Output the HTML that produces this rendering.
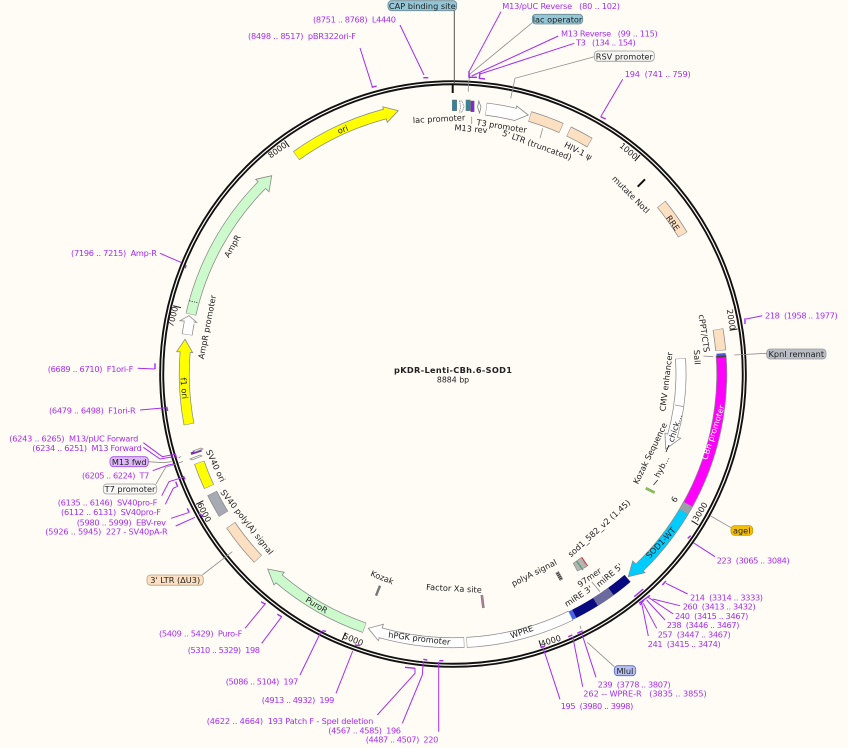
<!DOCTYPE html>
<html><head><meta charset="utf-8"><style>
html,body{margin:0;padding:0;background:#fffcf6;width:848px;height:748px;overflow:hidden}
svg{display:block;filter:blur(.3px)}
text{font-family:"DejaVu Sans","Liberation Sans",sans-serif;font-size:8.2px;white-space:pre;dominant-baseline:central}
.m{text-anchor:middle;fill:#222}
.p{fill:#a62cf2}
.o{stroke:#8a8a8a;stroke-width:10.8;fill:none}
.f{stroke-width:9.3;fill:none}
.h{stroke:#8a8a8a;stroke-width:.8}
.l{fill:none;stroke:#a62cf2;stroke-width:1}
.k{fill:none;stroke:#a62cf2;stroke-width:1.4}
.g{fill:none;stroke:#8c8c8c;stroke-width:.8}
.n{fill:none;stroke:#222;stroke-width:1}
</style></head><body>
<svg width="848" height="748" viewBox="0 0 848 748" xmlns="http://www.w3.org/2000/svg">
<defs>
<circle id="c" cx="453" cy="374" r="268.75" pathLength="360"/>
<circle id="d" cx="453" cy="374" r="228" pathLength="360"/>
<circle id="e" cx="453" cy="374" r="267" pathLength="360"/>
</defs>
<rect width="848" height="748" fill="#fffcf6"/>

<!-- ring -->
<circle cx="453" cy="374" r="291.3" fill="none" stroke="#111" stroke-width="5"/>
<circle cx="453" cy="374" r="291.3" fill="none" stroke="#fffcf6" stroke-width="1.2"/>

<!-- ticks -->
<g stroke="#111" stroke-width="1">
<line x1="453" y1="86" x2="453" y2="94" transform="rotate(40.5 453 374)"/>
<line x1="453" y1="86" x2="453" y2="94" transform="rotate(81 453 374)"/>
<line x1="453" y1="86" x2="453" y2="94" transform="rotate(121.6 453 374)"/>
<line x1="453" y1="86" x2="453" y2="94" transform="rotate(162.1 453 374)"/>
<line x1="453" y1="86" x2="453" y2="94" transform="rotate(202.6 453 374)"/>
<line x1="453" y1="86" x2="453" y2="94" transform="rotate(243.1 453 374)"/>
<line x1="453" y1="86" x2="453" y2="94" transform="rotate(283.7 453 374)"/>
<line x1="453" y1="86" x2="453" y2="94" transform="rotate(324.2 453 374)"/>
</g>
<g class="m">
<text class="m" transform="translate(628.7 151) rotate(40.5)" text-anchor="middle">1000</text>
<text class="m" transform="translate(731.3 319.5) rotate(81)">2000</text>
<text class="m" transform="translate(700 511.7) rotate(-58.4)">3000</text>
<text class="m" transform="translate(550.7 640.7) rotate(-18)">4000</text>
<text class="m" transform="translate(353.3 639.3) rotate(22.6)">5000</text>
<text class="m" transform="translate(204.3 512.3) rotate(63)">6000</text>
<text class="m" transform="translate(172.7 316.7) rotate(-76)">7000</text>
<text class="m" transform="translate(277.3 150) rotate(-36)">8000</text>
</g>

<!-- arrow heads -->
<polygon class="h" fill="#ffff00" points="382.7,106.7 398.3,110.7 387.3,122.3"/>
<polygon class="h" fill="#ccfacc" points="255.7,179.3 271.7,175.7 269,191.7"/>
<polygon class="h" fill="#fff" points="180,320.7 189,315.7 196.7,322.3"/>
<polygon class="h" fill="#ffff00" points="176.7,351.7 185,339.3 192.7,352.7"/>
<polygon class="h" fill="#ccfacc" points="284.3,572.3 267.7,569 274,585"/>
<polygon class="h" fill="#fff" points="383.3,624.3 368.3,628.3 378.3,640.7"/>
<polygon class="h" fill="#00ccff" points="632.7,561 628.3,576.7 645,572.7"/>
<polygon class="h" fill="#fff" points="516.7,106 528.3,115 514,120.7"/>
<polygon class="h" fill="#fff" points="665,433.3 665.7,449 680.7,438.3"/>

<!-- feature bodies: outlines -->
<use href="#c" class="o" stroke-dasharray="21.05 400" transform="rotate(234.3 453 374)"/>
<use href="#c" class="o" stroke-dasharray="31.8 400" transform="rotate(192.8 453 374)"/>
<use href="#c" class="o" stroke-dasharray="2.6 400" transform="rotate(188.4 453 374)"/>
<use href="#c" class="o" stroke-dasharray="15.4 400" transform="rotate(169.2 453 374)"/>
<use href="#c" class="o" stroke-dasharray="5.6 400" transform="rotate(155.2 453 374)"/>
<use href="#c" class="o" stroke-dasharray="5.1 400" transform="rotate(148.6 453 374)"/>
<use href="#c" class="o" stroke-dasharray="9.3 400" transform="rotate(136.5 453 374)"/>
<use href="#c" class="o" stroke-dasharray="21.1 400" transform="rotate(109.2 453 374)"/>
<use href="#c" class="o" stroke-dasharray="18 400" transform="rotate(87.6 453 374)"/>
<use href="#c" class="o" stroke-dasharray="23.1 400" transform="rotate(64 453 374)"/>
<use href="#c" class="o" stroke-dasharray="33.5 400" transform="rotate(-4 453 374)"/>
<use href="#c" class="o" stroke-dasharray="17 400" transform="rotate(29 453 374)"/>
<use href="#c" class="o" stroke-dasharray="4.6 400" transform="rotate(-9.6 453 374)"/>
<use href="#c" class="o" stroke-dasharray="8 400" transform="rotate(-39.2 453 374)"/>
<use href="#c" class="o" stroke-dasharray="5.1 400" transform="rotate(-64.5 453 374)"/>
<use href="#c" class="o" stroke-dasharray="7.2 400" transform="rotate(-73.4 453 374)"/>
<use href="#e" class="o" style="stroke-width:13" stroke-dasharray="6.3 400" transform="rotate(-82.9 453 374)"/>
<use href="#d" class="o" stroke-dasharray="19.6 400" transform="rotate(-3.9 453 374)"/>

<!-- feature bodies: fills -->
<use href="#c" class="f" stroke="#ffff00" stroke-dasharray="21.3 400" transform="rotate(234.4 453 374)"/>
<use href="#c" class="f" stroke="#ccfacc" stroke-dasharray="32.1 400" transform="rotate(192.9 453 374)"/>
<use href="#c" class="f" stroke="#fff" stroke-dasharray="2.9 400" transform="rotate(188.5 453 374)"/>
<use href="#c" class="f" stroke="#ffff00" stroke-dasharray="15.7 400" transform="rotate(169.3 453 374)"/>
<use href="#c" class="f" stroke="#ffff00" stroke-dasharray="5.4 400" transform="rotate(155.3 453 374)"/>
<use href="#c" class="f" stroke="#a6aab2" stroke-dasharray="4.9 400" transform="rotate(148.7 453 374)"/>
<use href="#c" class="f" stroke="#fde0c2" stroke-dasharray="9.1 400" transform="rotate(136.6 453 374)"/>
<use href="#c" class="f" stroke="#ccfacc" stroke-dasharray="21.4 400" transform="rotate(109.3 453 374)"/>
<use href="#c" class="f" stroke="#fff" stroke-dasharray="18.3 400" transform="rotate(87.7 453 374)"/>
<use href="#c" class="f" stroke="#fff" stroke-dasharray="22.9 400" transform="rotate(64.1 453 374)"/>
<use href="#c" class="f" stroke="#0a0a80" stroke-dasharray="13.7 400" transform="rotate(49.5 453 374)"/>
<use href="#c" class="f" stroke="#6a6a9e" stroke-dasharray="4 400" transform="rotate(54 453 374)"/>
<use href="#c" class="f" stroke="#4464ee" stroke-dasharray=".8 400" transform="rotate(63.2 453 374)"/>
<use href="#c" class="f" stroke="#00ccff" stroke-dasharray="15.5 400" transform="rotate(30.8 453 374)"/>
<use href="#c" class="f" stroke="#9aa0a8" stroke-dasharray="1.8 400" transform="rotate(29 453 374)"/>
<use href="#c" class="f" stroke="#ff00ff" stroke-dasharray="32.5 400" transform="rotate(-3.5 453 374)"/>
<use href="#c" class="f" stroke="#444" stroke-dasharray=".5 400" transform="rotate(-4 453 374)"/>
<use href="#c" class="f" stroke="#5555dd" stroke-dasharray=".5 400" transform="rotate(-4.4 453 374)"/>
<use href="#c" class="f" stroke="#fde0c2" stroke-dasharray="4.4 400" transform="rotate(-9.5 453 374)"/>
<use href="#c" class="f" stroke="#fde0c2" stroke-dasharray="7.8 400" transform="rotate(-39.1 453 374)"/>
<use href="#c" class="f" stroke="#fde0c2" stroke-dasharray="4.9 400" transform="rotate(-64.4 453 374)"/>
<use href="#c" class="f" stroke="#fde0c2" stroke-dasharray="7 400" transform="rotate(-73.3 453 374)"/>
<use href="#e" class="f" style="stroke-width:11.5" stroke="#fff" stroke-dasharray="6.6 400" transform="rotate(-82.8 453 374)"/>
<use href="#d" class="f" stroke="#fff" stroke-dasharray="19.9 400" transform="rotate(-3.8 453 374)"/>
<line x1="675" y1="405" x2="684" y2="406.7" stroke="#999" stroke-width=".8"/>
<line x1="189.3" y1="300.7" x2="197.3" y2="302.7" stroke="#333" stroke-width=".8" stroke-dasharray="1.2 1.2"/>

<!-- small features top -->
<line x1="452.7" y1="84" x2="452.7" y2="93" stroke="#111" stroke-width="2"/>
<rect x="452.3" y="100" width="4.4" height="10.7" fill="#2a87a2" stroke="#777" stroke-width=".6"/>
<path d="M459.5 101h2.6l2 5.5-2 5.5h-2.6l1.2-5.5z" fill="#fff" stroke="#777" stroke-width=".7" stroke-dasharray="1.2 .6"/>
<rect x="466" y="100" width="4.2" height="10.7" fill="#2a87a2" stroke="#777" stroke-width=".6"/>
<rect x="470.8" y="101" width="3.3" height="10.7" fill="#8a20e0" stroke="#666" stroke-width=".5"/>
<polygon points="478.8,101 481,107 479.5,113 477.6,107" fill="#fff" stroke="#777" stroke-width=".7"/>

<!-- mutate NotI -->
<line x1="637.7" y1="186.7" x2="645" y2="179.3" stroke="#111" stroke-width="2"/>

<!-- small inner features -->
<line x1="645.8" y1="488.2" x2="654.6" y2="492.6" stroke="#888" stroke-width="2.6"/>
<line x1="645.8" y1="488.2" x2="654.6" y2="492.6" stroke="#80d030" stroke-width="1.6"/>
<line x1="653.5" y1="485" x2="657.7" y2="480" stroke="#333" stroke-width=".9"/>
<line x1="666" y1="452" x2="669" y2="445" stroke="#222" stroke-width=".9"/>
<polygon points="573.3,563.3 581.7,557.3 586.7,566.7 577.3,571" fill="#b4b4b4" stroke="#888" stroke-width=".6"/>
<line x1="576.5" y1="561" x2="583" y2="570" stroke="#50a060" stroke-width="1.2"/>
<line x1="581.7" y1="557.3" x2="587.7" y2="566" stroke="#e03030" stroke-width="1"/>
<line x1="557" y1="572" x2="561.5" y2="580" stroke="#333" stroke-width="3.6"/>
<line x1="557" y1="572" x2="561.5" y2="580" stroke="#aaa" stroke-width="3.6" stroke-dasharray="1 1"/>
<line x1="376" y1="595.7" x2="380" y2="585.7" stroke="#777" stroke-width="2.4"/>
<line x1="481.8" y1="595" x2="483.4" y2="608" stroke="#777" stroke-width="2.6"/>
<line x1="481.8" y1="595" x2="483.4" y2="608" stroke="#b080a0" stroke-width="1.4"/>
<line x1="191" y1="453.7" x2="201.5" y2="450.2" stroke="#444" stroke-width="2.6"/>
<line x1="191" y1="453.7" x2="201.5" y2="450.2" stroke="#8a20e0" stroke-width="1.6"/>
<polygon points="190,459 200,455 202,456 192,460" fill="#fff" stroke="#888" stroke-width=".7"/>
<polygon points="193,451 201,448 203,449 195,452" fill="#fff" stroke="#888" stroke-width=".7"/>

<!-- gray leaders -->
<polyline class="n" style="stroke:#555" points="454.3,10 454.3,84"/>
<polyline class="g" points="532.3,22.7 470,74 468.3,84 468.3,91.7"/>
<polyline class="g" points="471.7,116.7 471.7,124"/>
<polyline class="g" points="594.3,56.7 515,78.3 510.7,98.3"/>
<polyline class="g" points="542.7,128.3 540,138.3"/>
<polyline class="g" points="766.7,353.3 734.3,355"/>
<polyline class="g" points="703.3,356 713.3,356.7"/>
<polyline class="g" points="731,527.7 710.7,516"/>
<polyline class="g" points="614.3,666.7 587.3,642.3"/>
<polyline class="g" points="580,625.7 581,629"/>
<polyline class="g" points="591.7,581.7 600,591.7"/>
<polyline class="g" points="202.3,575 232.3,551.7"/>
<polyline class="g" points="148.3,461.7 163.3,462.7 171.7,461.7"/>
<polyline class="g" points="156,484 165.7,467.3 176.7,464"/>
<polyline class="g" points="178.5,458 181,456.5"/>
<polyline class="g" points="178.5,463 183,461.5"/>

<!-- purple primers -->
<polyline class="l" points="400,25 424,75"/><polyline class="k" points="423.3,77.7 428.3,77.7"/>
<polyline class="l" points="360,48 372.3,86.7"/><polyline class="k" points="371.7,87.3 376.7,86"/>
<polyline class="l" points="501,11.7 469,71.7"/><polyline class="k" points="469,71 469,77.3 477,77.3"/>
<polyline class="l" points="558.3,36 471.7,76"/>
<polyline class="l" points="574.3,43.3 480,74"/><polyline class="k" points="480,72.7 479.3,78.3 485,79"/>
<polyline class="l" points="622.7,79.3 600.7,116.7"/><polyline class="k" points="600.7,116.7 605.7,119"/>
<polyline class="l" points="762.3,315.7 746,319"/><polyline class="k" points="745,318.3 745,324"/>
<polyline class="l" points="715,556.7 693.3,542.7"/><polyline class="k" points="687.7,538.3 690.7,535.7"/>
<polyline class="l" points="687.7,594 666,583.3"/><polyline class="k" points="662.3,585 666,581"/>
<polyline class="k" points="634.3,596.7 643.3,589"/>
<polyline class="l" points="680,605.7 652.7,599"/>
<polyline class="l" points="673.3,614 648.3,597.3"/>
<polyline class="l" points="665,620 646.7,600"/>
<polyline class="l" points="656.7,628.3 643.3,603.3"/>
<polyline class="l" points="648.3,636 641.7,603.3"/>
<polyline class="k" points="639,603.3 650,595.3"/>
<polyline class="k" points="640,605 644,600"/>
<polyline class="l" points="596,677.3 581.7,633.3"/><polyline class="k" points="577.3,633.3 582.7,630.7"/>
<polyline class="l" points="582.7,686.7 572.7,636.7"/><polyline class="k" points="568.3,636.7 572.3,635"/>
<polyline class="l" points="560,699.3 542.7,646.7"/><polyline class="k" points="540.7,647.3 545,646"/>
<polyline class="l" points="245,628.3 265.7,603.3"/><polyline class="k" points="261,601.7 265,604"/>
<polyline class="l" points="261.7,643.3 281.7,616.7"/><polyline class="k" points="277.3,614.3 281.7,616.7"/>
<polyline class="l" points="300,675 321,631.7"/><polyline class="k" points="322.3,630.7 326,631.3"/>
<polyline class="l" points="336,693.3 352.7,651"/><polyline class="k" points="355,645 360,645.6"/>
<polyline class="l" points="377.3,715 415,673.3 415,668.3"/><polyline class="k" points="405,667.3 415,668.3"/>
<polyline class="l" points="402.3,723.3 422.3,675 423.3,661.7"/><polyline class="k" points="423.3,659.3 427.3,660"/>
<polyline class="l" points="438.7,731.7 438.7,661.7"/><polyline class="k" points="439.3,660.7 443.3,660.7"/>
<polyline class="l" points="160,253.3 181.7,262.7"/><polyline class="k" points="186,265 185.3,268.3"/>
<polyline class="l" points="137.7,368.3 155,369"/><polyline class="k" points="155,363.3 155,369"/>
<polyline class="l" points="140,410 165.7,407.7"/><polyline class="k" points="166.7,406.7 167.7,411"/>
<polyline class="l" points="143.3,442.7 162.3,456.7 175,454.3"/><polyline class="k" points="175,453.3 176.7,458.3"/>
<polyline class="l" points="143.3,447.3 160,459 173.3,456.7"/>
<polyline class="l" points="152.7,470.7 168.3,465 173.3,464"/>
<polyline class="l" points="161.7,495.7 169,481.7 183.3,477.3"/><polyline class="k" points="183.3,476 185,479.3"/>
<polyline class="l" points="165.3,504.3 173.3,488.3 176.7,486.7"/><polyline class="k" points="175.7,481.7 177.7,486.7"/>
<polyline class="l" points="171,518.3 188.3,512.7"/><polyline class="k" points="187.3,508.3 189.3,512.7"/>
<polyline class="l" points="175.7,526 195,517.3"/><polyline class="k" points="199,513.3 203.3,516.7"/>

<!-- pills -->
<g stroke-width=".8">
<rect x="388" y="0.7" width="68.7" height="10" rx="3.5" fill="#93c6d6" stroke="#6c8a96"/>
<rect x="532.3" y="14.3" width="50.4" height="9.7" rx="3.5" fill="#93c6d6" stroke="#6c8a96"/>
<rect x="594.3" y="51" width="60" height="10.3" rx="3.5" fill="#f6f6f4" stroke="#999"/>
<rect x="766.7" y="349" width="59.3" height="10" rx="3.5" fill="#b9bdc5" stroke="#999"/>
<rect x="731" y="525.7" width="21.7" height="9.6" rx="3.5" fill="#f5c000" stroke="#c09a20"/>
<rect x="614.3" y="665.7" width="21.4" height="10" rx="3.5" fill="#b8c0f2" stroke="#5566cc"/>
<rect x="110" y="456.7" width="38.3" height="10" rx="3.5" fill="#dcb8f5" stroke="#a050d8"/>
<rect x="103.3" y="484" width="53.4" height="10" rx="3.5" fill="#f8f8f6" stroke="#999"/>
<rect x="147" y="575" width="56.3" height="10.2" rx="3.5" fill="#fde0c2" stroke="#b8a080"/>
</g>
<g class="m">
<text class="m" x="422.3" y="6">CAP binding site</text>
<text class="m" x="557.5" y="19.3">lac operator</text>
<text class="m" x="624.3" y="56.3">RSV promoter</text>
<text class="m" x="796.3" y="354">KpnI remnant</text>
<text class="m" x="741.8" y="530.6">ageI</text>
<text class="m" x="625" y="670.8">MluI</text>
<text class="m" x="129.2" y="461.8">M13 fwd</text>
<text class="m" x="130" y="489.2">T7 promoter</text>
<text class="m" x="175.2" y="580.2">3' LTR (ΔU3)</text>
</g>

<!-- feature labels -->
<text class="m" x="453" y="370" style="font-weight:bold" textLength="118">pKDR-Lenti-CBh.6-SOD1</text>
<text class="m" x="453" y="380" style="font-size:7.8px">8884 bp</text>
<text class="m" transform="translate(342.7 129.3) rotate(-20)">ori</text>
<text class="m" transform="translate(232.3 246) rotate(-60)">AmpR</text>
<text class="m" transform="translate(207 327) rotate(-79)">AmpR promoter</text>
<text class="m" transform="translate(184.3 388.3) rotate(85)">f1 ori</text>
<text class="m" transform="translate(215.8 465.7) rotate(65)">SV40 ori</text>
<text class="m" transform="translate(247 522) rotate(52)">SV40 poly(A) signal</text>
<text class="m" transform="translate(316.7 605) rotate(31)">PuroR</text>
<text class="m" transform="translate(419.3 638.3) rotate(7)">hPGK promoter</text>
<text class="m" transform="translate(521.7 631.7) rotate(-20)">WPRE</text>
<text class="m" transform="translate(578.3 596) rotate(-33)">miRE 3'</text>
<text class="m" transform="translate(609.3 575) rotate(-40)">miRE 5'</text>
<text class="m" transform="translate(589.3 577.3) rotate(-35)">97mer</text>
<text class="m" transform="translate(599 528.3) rotate(-42)">sod1_582_v2 (1.45)</text>
<text class="m" transform="translate(534 572.7) rotate(-27)">polyA signal</text>
<text class="m" transform="translate(382.3 577.3) rotate(22)">Kozak</text>
<text class="m" transform="translate(454 588.3) rotate(3)">Factor Xa site</text>
<text class="m" transform="translate(660.7 542.7) rotate(-47)">SOD1-WT</text>
<text class="m" transform="translate(713 432.3) rotate(-72)" style="fill:#fff">CBh promoter</text>
<text class="m" transform="translate(666 381.7) rotate(-83)">CMV enhancer</text>
<text class="m" transform="translate(675 428) rotate(-72)">chick...</text>
<text class="m" transform="translate(650 453.3) rotate(-64)">Kozak Sequence</text>
<text class="m" transform="translate(661.7 466.7) rotate(-62)">hyb...</text>
<text class="m" transform="translate(674.3 499.3) rotate(-58)">6</text>
<text class="m" transform="translate(704.3 333.3) rotate(82)">cPPT/CTS</text>
<text class="m" transform="translate(697.3 357.3) rotate(87)">SalI</text>
<text class="m" transform="translate(631 194.5) rotate(45)">mutate NotI</text>
<text class="m" transform="translate(673 223) rotate(55)">RRE</text>
<text class="m" transform="translate(439 118.7) rotate(-3)">lac promoter</text>
<text class="m" transform="translate(471 128.7) rotate(5)">M13 rev</text>
<text class="m" transform="translate(501.7 126) rotate(9)">T3 promoter</text>
<text class="m" transform="translate(537 145) rotate(20)">5' LTR (truncated)</text>
<text class="m" transform="translate(578.3 150.7) rotate(27)">HIV-1 ψ</text>

<!-- purple labels -->
<text class="p" x="313" y="19.3" textLength="83">(8751 .. 8768)  L4440</text>
<text class="p" x="248" y="36" textLength="108">(8498 .. 8517)  pBR322ori-F</text>
<text class="p" x="502.3" y="6" textLength="117.7">M13/pUC Reverse   (80 .. 102)</text>
<text class="p" x="561" y="33.3" textLength="96.7">M13 Reverse   (99 .. 115)</text>
<text class="p" x="576" y="42.7" textLength="59.7">T3   (134 .. 154)</text>
<text class="p" x="624.7" y="74" textLength="66">194  (741 .. 759)</text>
<text class="p" x="765" y="315.3" textLength="72.7">218  (1958 .. 1977)</text>
<text class="p" x="716.7" y="560.7" textLength="73">223  (3065 .. 3084)</text>
<text class="p" x="690" y="597.3" textLength="73">214  (3314 .. 3333)</text>
<text class="p" x="682.7" y="606.7" textLength="73">260  (3413 .. 3432)</text>
<text class="p" x="675" y="616" textLength="73.3">240  (3415 .. 3467)</text>
<text class="p" x="666.7" y="625" textLength="72.7">238  (3446 .. 3467)</text>
<text class="p" x="657.7" y="634.3" textLength="73">257  (3447 .. 3467)</text>
<text class="p" x="647.7" y="644" textLength="73">241  (3415 .. 3474)</text>
<text class="p" x="597.7" y="684.3" textLength="73">239  (3778 .. 3807)</text>
<text class="p" x="583.3" y="693.3" textLength="123.4">262 -- WPRE-R   (3835 .. 3855)</text>
<text class="p" x="560.7" y="706" textLength="72.6">195  (3980 .. 3998)</text>
<text class="p" x="159" y="633.3" textLength="83.3">(5409 .. 5429)  Puro-F</text>
<text class="p" x="187.7" y="650" textLength="72.3">(5310 .. 5329)  198</text>
<text class="p" x="225.7" y="681.3" textLength="72.6">(5086 .. 5104)  197</text>
<text class="p" x="261.7" y="700" textLength="72.6">(4913 .. 4932)  199</text>
<text class="p" x="206.7" y="721" textLength="166.6">(4622 .. 4664)  193 Patch F - SpeI deletion</text>
<text class="p" x="328.3" y="730.3" textLength="72.7">(4567 .. 4585)  196</text>
<text class="p" x="365.7" y="739.7" textLength="72.6">(4487 .. 4507)  220</text>
<text class="p" x="71" y="253" textLength="86">(7196 .. 7215)  Amp-R</text>
<text class="p" x="47.7" y="369" textLength="85.6">(6689 .. 6710)  F1ori-F</text>
<text class="p" x="49" y="410.7" textLength="86.7">(6479 .. 6498)  F1ori-R</text>
<text class="p" x="9.3" y="438.7" textLength="129">(6243 .. 6265)  M13/pUC Forward</text>
<text class="p" x="32.3" y="448" textLength="109.4">(6234 .. 6251)  M13 Forward</text>
<text class="p" x="82" y="475.3" textLength="67.3">(6205 .. 6224)  T7</text>
<text class="p" x="57.7" y="502.7" textLength="99.6">(6135 .. 6146)  SV40pro-F</text>
<text class="p" x="61" y="512" textLength="100">(6112 .. 6131)  SV40pro-F</text>
<text class="p" x="76.7" y="522.3" textLength="89.3">(5980 .. 5999)  EBV-rev</text>
<text class="p" x="45.3" y="531.3" textLength="122.4">(5926 .. 5945)  227 - SV40pA-R</text>
</svg>
</body></html>
